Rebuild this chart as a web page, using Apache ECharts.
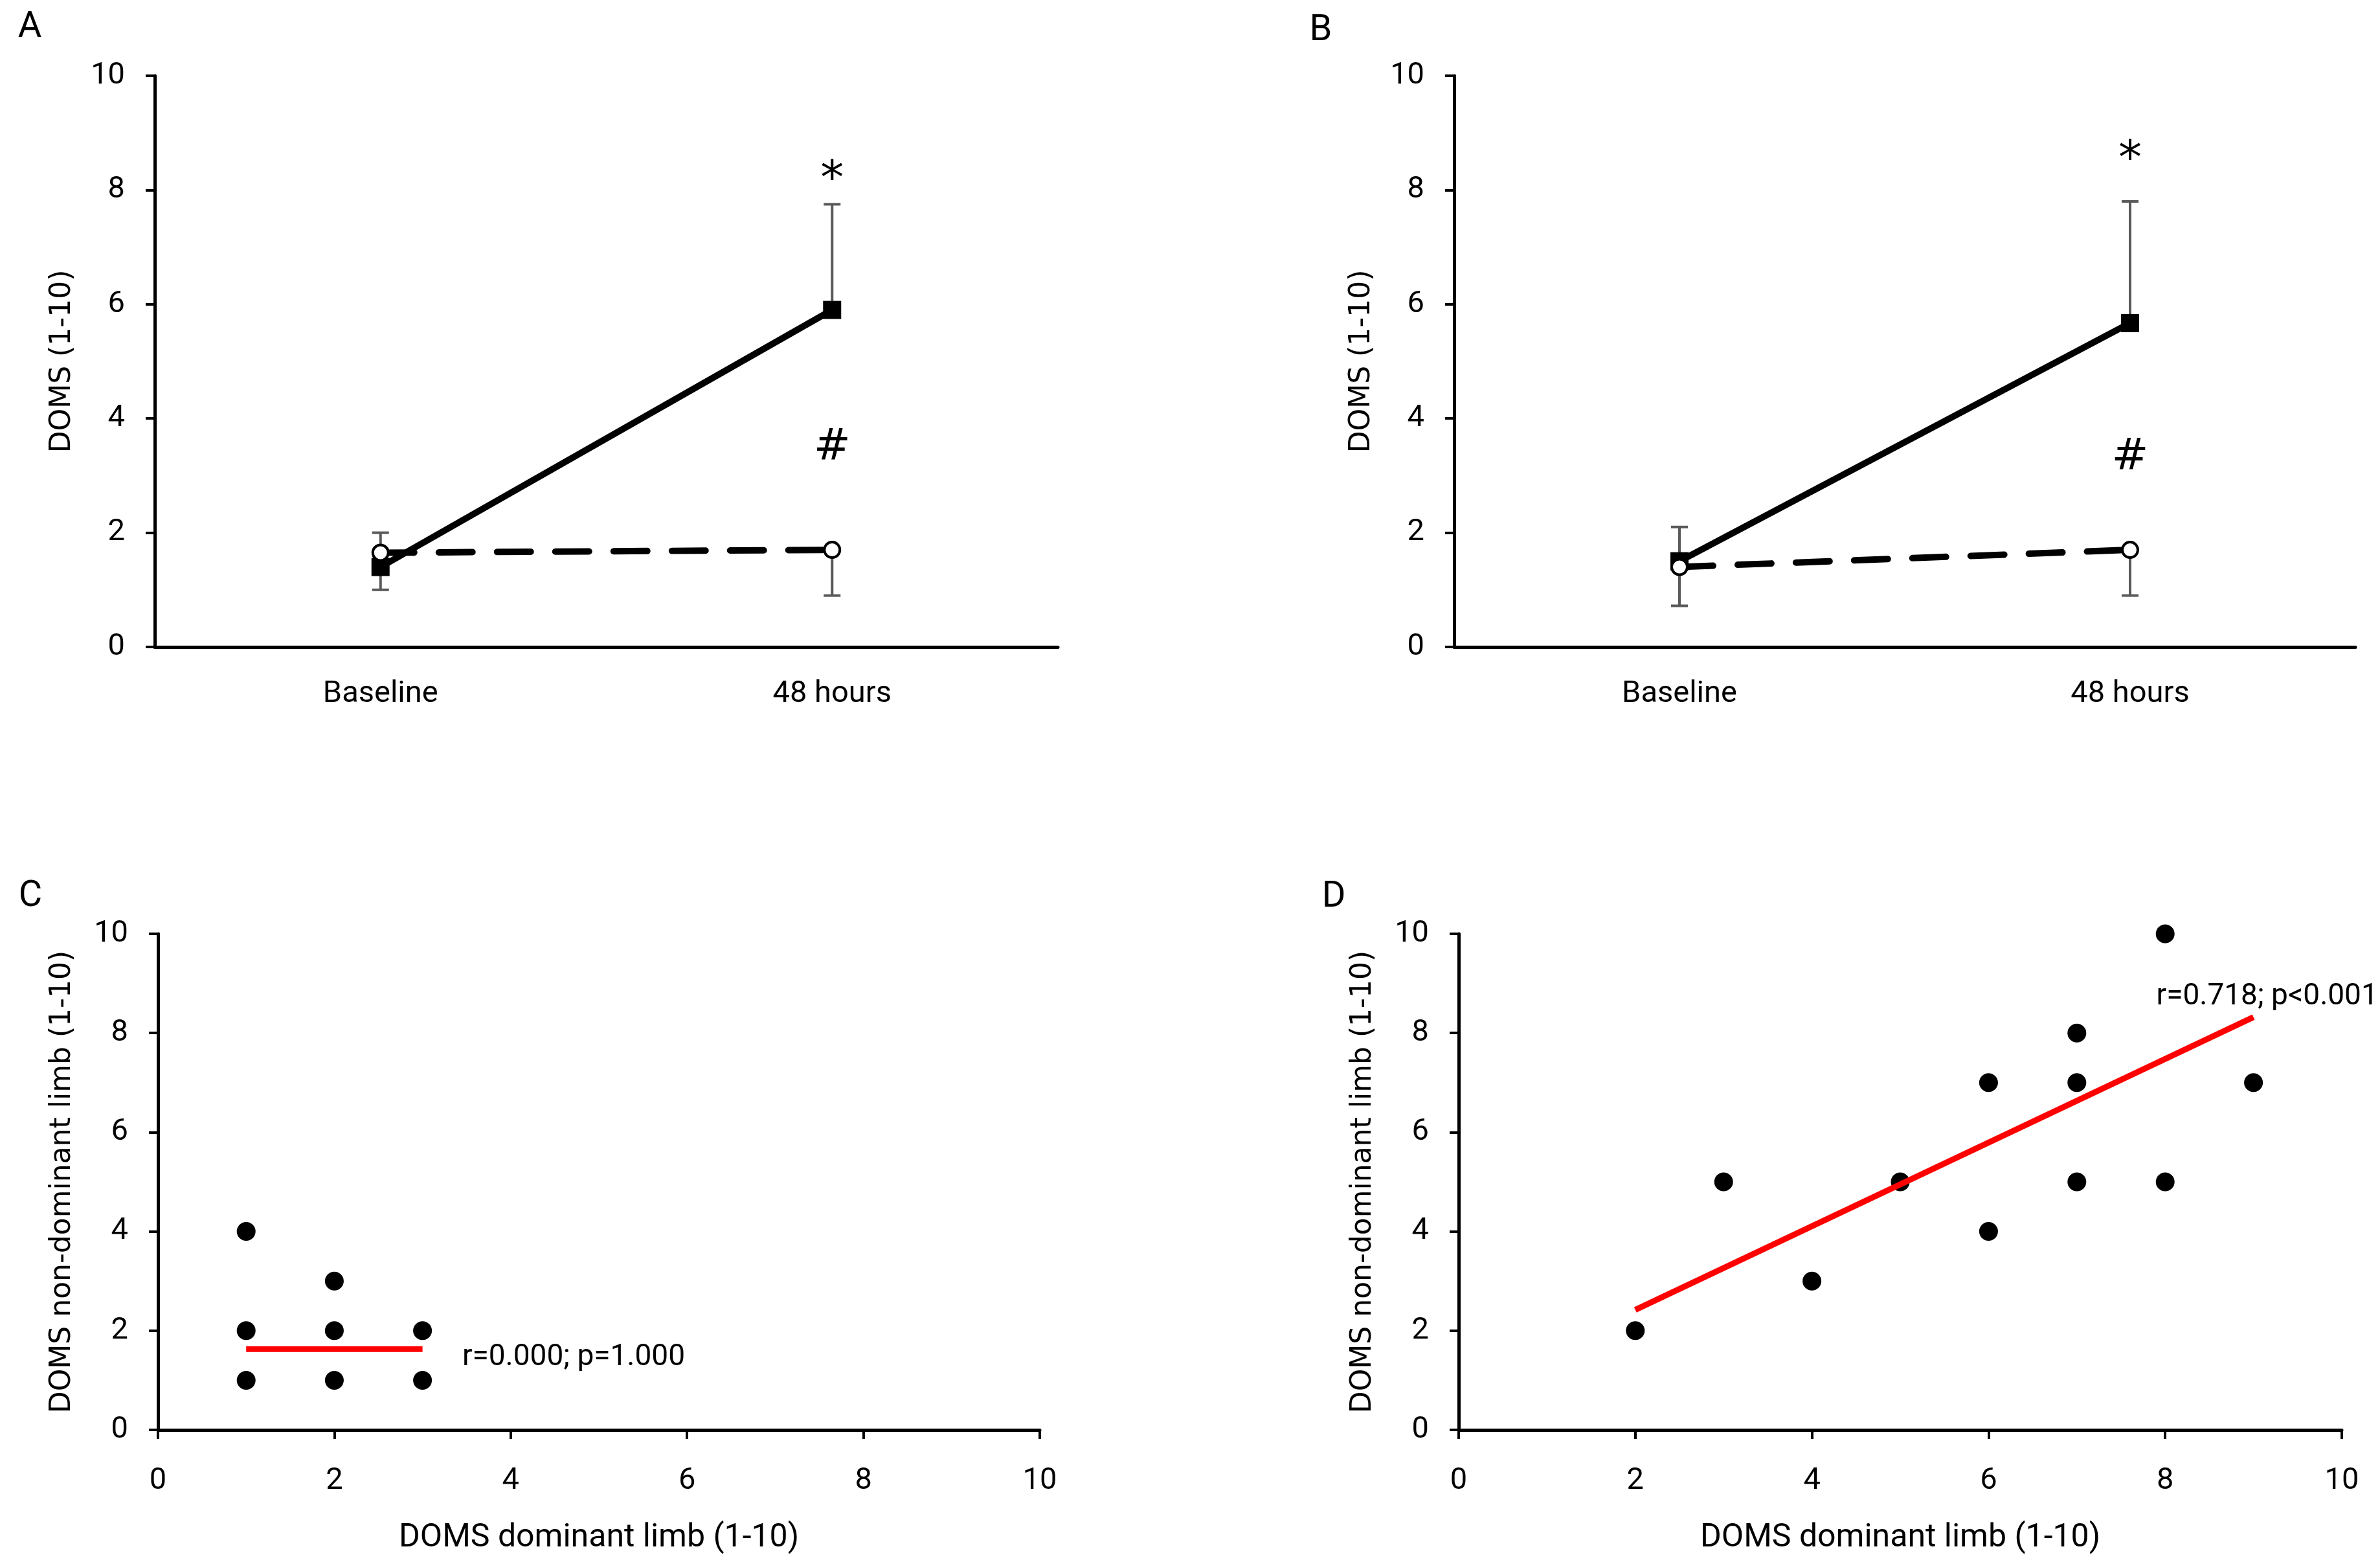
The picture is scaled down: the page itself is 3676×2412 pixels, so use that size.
<!DOCTYPE html>
<html>
<head>
<meta charset="utf-8">
<script src="https://cdn.jsdelivr.net/npm/echarts@6/dist/echarts.min.js"></script>
<style>
  html, body { margin: 0; padding: 0; background: #fff; }
  #main { width: 3676px; height: 2412px; }
</style>
</head>
<body>
<div id="main"></div>
<script>
// time points (panels A, B)
var days = ['Baseline', '48 hours'];

// panel A: solid = squares (sd upward), dashed = circles (sd downward)
var aSolid = [1.4, 5.9];
var aSolidSd = [0.6, 1.85];
var aDashed = [1.65, 1.7];
var aDashedSd = [0.65, 0.8];
var aStar = [1, 8.34];
var aHash = [1, 3.48];

// panel B
var bSolid = [1.5, 5.67];
var bSolidSd = [0.6, 2.13];
var bDashed = [1.4, 1.7];
var bDashedSd = [0.68, 0.8];
var bStar = [1, 8.69];
var bHash = [1, 3.31];

// panel C: dominant vs non-dominant limb
var cX = [1, 1, 1, 2, 2, 2, 3, 3];
var cY = [4, 2, 1, 3, 2, 1, 2, 1];
var cFitX = [1, 3];
var cFitY = [1.63, 1.63];
var cNote = [3.45, 1.45];
var cText = 'r=0.000; p=1.000';

// panel D
var dX = [2, 3, 4, 5, 6, 6, 7, 7, 7, 8, 8, 9];
var dY = [2, 5, 3, 5, 7, 4, 8, 7, 5, 10, 5, 7];
var dFitX = [2, 9];
var dFitY = [2.42, 8.32];
var dNote = [7.9, 8.73];
var dText = 'r=0.718; p<0.001';

var tickFont = 'Roboto';
var titleFont = 'DejaVu Sans';

function zip(xs, ys) {
    return xs.map(function (x, i) { return [x, ys[i]]; });
}

function valueAxis(idx, name, gap) {
    return {
        type: 'value', gridIndex: idx, min: 0, max: 10, interval: 2,
        name: name, nameLocation: 'middle', nameGap: gap,
        nameTextStyle: {fontFamily: titleFont, fontSize: 44, color: '#000'},
        axisLine: {show: true, lineStyle: {color: '#000', width: 5}},
        axisTick: {show: true, length: 14, lineStyle: {color: '#000', width: 4}},
        axisLabel: {fontFamily: tickFont, fontSize: 47, color: '#000', margin: 46},
        splitLine: {show: false}
    };
}

function catAxis(idx) {
    return {
        type: 'category', gridIndex: idx, data: days, boundaryGap: true,
        axisLine: {lineStyle: {color: '#000', width: 5}},
        axisTick: {alignWithLabel: true, length: 14, lineStyle: {color: '#000', width: 4}},
        axisLabel: {fontFamily: tickFont, fontSize: 47, color: '#000', margin: 50},
        splitLine: {show: false}
    };
}

function numXAxis(idx) {
    return {
        type: 'value', gridIndex: idx, min: 0, max: 10, interval: 2,
        name: 'DOMS dominant limb (1-10)', nameLocation: 'middle', nameGap: 142,
        nameTextStyle: {fontFamily: tickFont, fontSize: 50, color: '#000'},
        axisLine: {show: true, onZero: false, lineStyle: {color: '#000', width: 5}},
        axisTick: {show: true, length: 14, lineStyle: {color: '#000', width: 4}},
        axisLabel: {fontFamily: tickFont, fontSize: 47, color: '#000', margin: 56},
        splitLine: {show: false}
    };
}

// error bars: sign +1 draws up, -1 draws down
function errBars(idx, means, sds, sign) {
    return {
        type: 'custom', xAxisIndex: idx, yAxisIndex: idx, z: 1,
        data: means.map(function (m, i) { return [i, m, m + sign * sds[i]]; }),
        renderItem: function (params, api) {
            var p0 = api.coord([api.value(0), api.value(1)]);
            var p1 = api.coord([api.value(0), api.value(2)]);
            var w = 13;
            var st = {stroke: '#595959', lineWidth: 4};
            return {
                type: 'group', children: [
                    {type: 'line', shape: {x1: p0[0], y1: p0[1], x2: p1[0], y2: p1[1]}, style: st},
                    {type: 'line', shape: {x1: p1[0] - w, y1: p1[1], x2: p1[0] + w, y2: p1[1]}, style: st}
                ]
            };
        }
    };
}

function solidLine(idx, vals) {
    return {
        type: 'line', xAxisIndex: idx, yAxisIndex: idx, data: vals, z: 3,
        symbol: 'rect', symbolSize: 28,
        itemStyle: {color: '#000'},
        lineStyle: {color: '#000', width: 10}
    };
}

function dashedLine(idx, vals) {
    return {
        type: 'line', xAxisIndex: idx, yAxisIndex: idx, data: vals, z: 4,
        symbol: 'circle', symbolSize: 24, showAllSymbol: true,
        itemStyle: {color: '#fff', borderColor: '#000', borderWidth: 4},
        lineStyle: {color: '#000', width: 10, type: [52, 38], cap: 'round'}
    };
}

function note(idx, pos, text, size, align, family, dy) {
    return {
        type: 'scatter', xAxisIndex: idx, yAxisIndex: idx, symbolSize: 0, z: 5,
        data: [pos], silent: true,
        itemStyle: {opacity: 1},
        label: {
            show: true, position: 'inside', formatter: text, align: align,
            fontFamily: family, fontSize: size, color: '#000', offset: [0, dy || 0]
        }
    };
}

function dots(idx, xs, ys) {
    return {
        type: 'scatter', xAxisIndex: idx, yAxisIndex: idx, z: 3,
        data: zip(xs, ys), symbol: 'circle', symbolSize: 29,
        itemStyle: {color: '#000', opacity: 1}
    };
}

function fit(idx, xs, ys) {
    return {
        type: 'line', xAxisIndex: idx, yAxisIndex: idx, z: 4,
        data: zip(xs, ys), symbol: 'none',
        lineStyle: {color: '#ff0000', width: 9}
    };
}

var myChart = echarts.init(document.getElementById('main'));

var option = {
    backgroundColor: '#fff',
    animation: false,
    grid: [
        {left: 239, top: 117, width: 1395, height: 882},
        {left: 2246, top: 117, width: 1392, height: 882},
        {left: 244, top: 1442, width: 1362, height: 766},
        {left: 2253, top: 1442, width: 1364, height: 766}
    ],
    xAxis: [catAxis(0), catAxis(1), numXAxis(2), numXAxis(3)],
    yAxis: [
        valueAxis(0, 'DOMS (1-10)', 120),
        valueAxis(1, 'DOMS (1-10)', 120),
        valueAxis(2, 'DOMS non-dominant limb (1-10)', 125),
        valueAxis(3, 'DOMS non-dominant limb (1-10)', 125)
    ],
    graphic: [
        {type: 'text', x: 46, y: 43, style: {text: 'A', font: '56px Roboto', fill: '#000', textAlign: 'center', textVerticalAlign: 'middle'}},
        {type: 'text', x: 2040, y: 48, style: {text: 'B', font: '56px Roboto', fill: '#000', textAlign: 'center', textVerticalAlign: 'middle'}},
        {type: 'text', x: 47, y: 1385, style: {text: 'C', font: '56px Roboto', fill: '#000', textAlign: 'center', textVerticalAlign: 'middle'}},
        {type: 'text', x: 2060, y: 1386, style: {text: 'D', font: '56px Roboto', fill: '#000', textAlign: 'center', textVerticalAlign: 'middle'}}
    ],
    series: [
        errBars(0, aSolid, aSolidSd, 1),
        errBars(0, aDashed, aDashedSd, -1),
        solidLine(0, aSolid),
        dashedLine(0, aDashed),
        note(0, aStar, '*', 72, 'center', 'DejaVu Sans', 16),
        note(0, aHash, '#', 68, 'center', 'DejaVu Sans'),

        errBars(1, bSolid, bSolidSd, 1),
        errBars(1, bDashed, bDashedSd, -1),
        solidLine(1, bSolid),
        dashedLine(1, bDashed),
        note(1, bStar, '*', 72, 'center', 'DejaVu Sans', 16),
        note(1, bHash, '#', 68, 'center', 'DejaVu Sans'),

        dots(2, cX, cY),
        fit(2, cFitX, cFitY),
        note(2, cNote, cText, 46, 'left', tickFont),

        dots(3, dX, dY),
        fit(3, dFitX, dFitY),
        note(3, dNote, dText, 46, 'left', tickFont)
    ]
};

myChart.setOption(option);
</script>
</body>
</html>
